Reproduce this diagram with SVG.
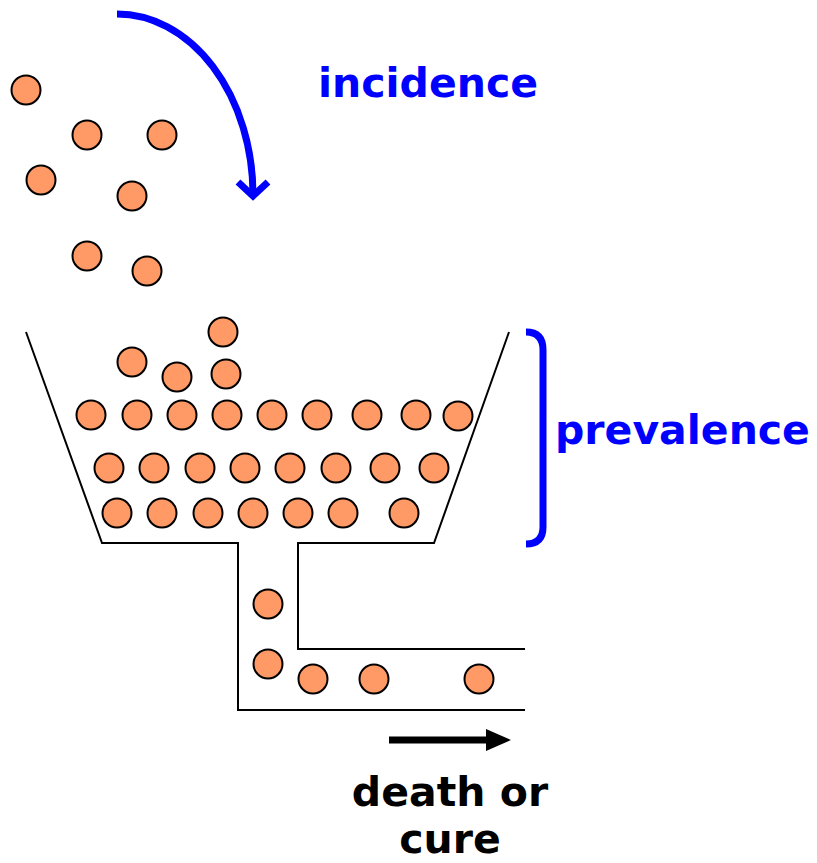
<svg xmlns="http://www.w3.org/2000/svg" width="817" height="863" viewBox="0 0 817 863">
<style>
.b{fill:#FF9966;stroke:#000;stroke-width:2}
.w{fill:none;stroke:#000;stroke-width:2}
.blue{fill:none;stroke:#0000FF;stroke-width:7}
.t{font-family:"DejaVu Sans",Verdana,sans-serif;font-weight:bold;font-size:41px}
</style>
<rect width="817" height="863" fill="#fff"/>
<g id="funnel">
<polyline class="w" points="26,332 102,543 238,543 238,710 525,710"/>
<polyline class="w" points="509,332 434,543 298,543 298,649 525,649"/>
</g>
<g id="falling">
<circle class="b" cx="26" cy="90" r="14.5"/>
<circle class="b" cx="87" cy="135" r="14.5"/>
<circle class="b" cx="162" cy="135" r="14.5"/>
<circle class="b" cx="41" cy="180" r="14.5"/>
<circle class="b" cx="132" cy="196" r="14.5"/>
<circle class="b" cx="87" cy="256" r="14.5"/>
<circle class="b" cx="147" cy="271" r="14.5"/>
</g>
<g id="pool">
<circle class="b" cx="223" cy="332" r="14.5"/>
<circle class="b" cx="132" cy="362" r="14.5"/>
<circle class="b" cx="177" cy="377" r="14.5"/>
<circle class="b" cx="226" cy="374" r="14.5"/>
<circle class="b" cx="91" cy="415" r="14.5"/>
<circle class="b" cx="137" cy="415" r="14.5"/>
<circle class="b" cx="182" cy="415" r="14.5"/>
<circle class="b" cx="227" cy="415" r="14.5"/>
<circle class="b" cx="272" cy="415" r="14.5"/>
<circle class="b" cx="317" cy="415" r="14.5"/>
<circle class="b" cx="367" cy="415" r="14.5"/>
<circle class="b" cx="416" cy="415" r="14.5"/>
<circle class="b" cx="458" cy="416" r="14.5"/>
<circle class="b" cx="109" cy="468" r="14.5"/>
<circle class="b" cx="154" cy="468" r="14.5"/>
<circle class="b" cx="200" cy="468" r="14.5"/>
<circle class="b" cx="245" cy="468" r="14.5"/>
<circle class="b" cx="290" cy="468" r="14.5"/>
<circle class="b" cx="336" cy="468" r="14.5"/>
<circle class="b" cx="385" cy="468" r="14.5"/>
<circle class="b" cx="434" cy="468" r="14.5"/>
<circle class="b" cx="117" cy="513" r="14.5"/>
<circle class="b" cx="162" cy="513" r="14.5"/>
<circle class="b" cx="208" cy="513" r="14.5"/>
<circle class="b" cx="253" cy="513" r="14.5"/>
<circle class="b" cx="298" cy="513" r="14.5"/>
<circle class="b" cx="343" cy="513" r="14.5"/>
<circle class="b" cx="404" cy="513" r="14.5"/>
</g>
<g id="outflow">
<circle class="b" cx="268" cy="604" r="14.5"/>
<circle class="b" cx="268" cy="664" r="14.5"/>
<circle class="b" cx="313" cy="679" r="14.5"/>
<circle class="b" cx="374" cy="679" r="14.5"/>
<circle class="b" cx="479" cy="679" r="14.5"/>
</g>
<g id="connectors">
<path class="blue" d="M117,14 A136,181 0 0 1 253,194"/>
<polyline class="blue" stroke-width="6" points="238,182 253,196 268,182"/>
<path class="blue" stroke-width="6" d="M526,332 Q543,332 543,350 L543,527 Q543,544 526,544"/>
<line x1="389" y1="740" x2="490" y2="740" stroke="#000" stroke-width="7"/>
<polygon points="486,729 511,740 486,751" fill="#000"/>
</g>
<g id="labels">
<text class="t" x="318" y="97" fill="#0000FF" font-size="42">incidence</text>
<text class="t" x="555" y="444" fill="#0000FF">prevalence</text>
<text class="t" x="450" y="806" text-anchor="middle" fill="#000">death or</text>
<text class="t" x="450" y="853" text-anchor="middle" fill="#000">cure</text>
</g>
</svg>
